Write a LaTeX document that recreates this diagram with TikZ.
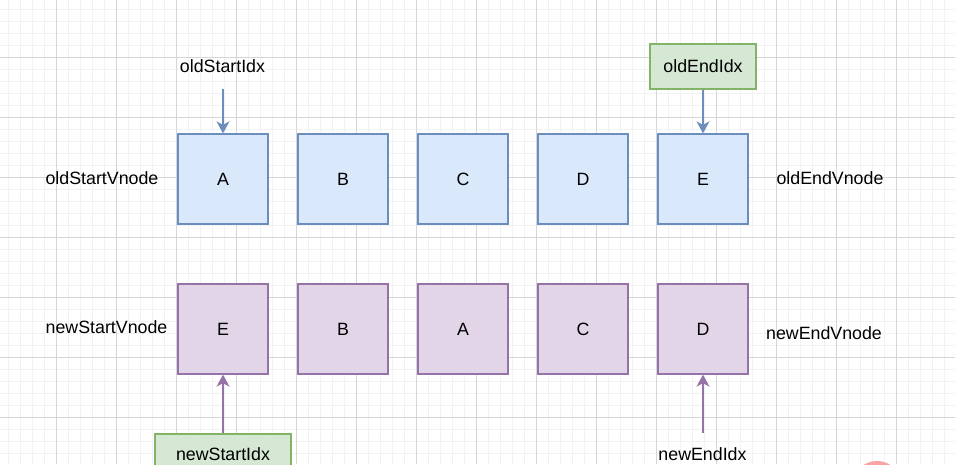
\documentclass[tikz,border=0pt]{standalone}
\usepackage{fontspec}
\setmainfont{Liberation Sans}
\usetikzlibrary{arrows.meta}
\definecolor{bluefill}{HTML}{DAE8FC}
\definecolor{bluedraw}{HTML}{6C8EBF}
\definecolor{purpfill}{HTML}{E1D5E7}
\definecolor{purpdraw}{HTML}{9673A6}
\definecolor{greenfill}{HTML}{D5E8D4}
\definecolor{greendraw}{HTML}{82B366}
\definecolor{gridmajor}{HTML}{D6D6D6}
\definecolor{gridminor}{HTML}{F2F2F2}
\definecolor{blob}{HTML}{F9A3A3}
\tikzset{
  txt/.style={font=\fontsize{17.8}{20}\selectfont, inner sep=0pt},
  oldbox/.style={txt, draw=bluedraw, fill=bluefill, line width=1.3pt, minimum width=90pt, minimum height=90pt},
  newbox/.style={txt, draw=purpdraw, fill=purpfill, line width=1.3pt, minimum width=90pt, minimum height=90pt},
  idxbox/.style={txt, draw=greendraw, fill=greenfill, line width=1.3pt, minimum height=45pt},
  bluearrow/.style={draw=bluedraw, line width=1.3pt, -{Stealth[length=12pt,width=13pt,inset=3.5pt]}},
  purparrow/.style={draw=purpdraw, line width=1.3pt, -{Stealth[length=12pt,width=13pt,inset=3.5pt]}},
}
\begin{document}
\begin{tikzpicture}[x=1pt,y=-1pt]
\useasboundingbox (0,0) rectangle (955,464);
\fill[white] (0,0) rectangle (955,464);
% minor grid
\foreach \i in {0,...,79} {\draw[gridminor, line width=0.8pt] (8.7+12*\i,0) -- (8.7+12*\i,464);}
\foreach \j in {0,...,38} {\draw[gridminor, line width=0.8pt] (0,9.3+12*\j) -- (955,9.3+12*\j);}
% major grid
\foreach \i in {0,...,14} {\draw[gridmajor, line width=0.8pt] (56.7+60*\i,0) -- (56.7+60*\i,464);}
\foreach \j in {0,...,6} {\draw[gridmajor, line width=0.8pt] (0,57.3+60*\j) -- (955,57.3+60*\j);}

% blob
\fill[blob] (877,486) circle (25);

% old row
\node[oldbox] (oA) at (223,179) {A};
\node[oldbox] (oB) at (343,179) {B};
\node[oldbox] (oC) at (463,179) {C};
\node[oldbox] (oD) at (583,179) {D};
\node[oldbox] (oE) at (703,179) {E};
% new row
\node[newbox] (nE) at (223,329) {E};
\node[newbox] (nB) at (343,329) {B};
\node[newbox] (nA) at (463,329) {A};
\node[newbox] (nC) at (583,329) {C};
\node[newbox] (nD) at (703,329) {D};

% labels
\node[txt] (osv) at (102,178) {oldStartVnode};
\node[txt] (oev) at (830,178) {oldEndVnode};
\node[txt] (nsv) at (106.5,327) {newStartVnode};
\node[txt] (nev) at (824,333) {newEndVnode};

% index pointers
\node[txt] (osi) at (222.5,66) {oldStartIdx};
\coordinate (osiEnd) at (223,89);
\node[idxbox, minimum width=106pt] (oei) at (703,66.5) {oldEndIdx};
\node[idxbox, minimum width=136pt] (nsibox) at (223,456.5) {};
\node[txt] (nsi) at (223,454) {newStartIdx};
\node[txt] (nei) at (702.5,454) {newEndIdx};
\coordinate (neiEnd) at (703,433);

\draw[bluearrow] (osiEnd) -- (oA.north);
\draw[bluearrow] (oei.south) -- (oE.north);
\draw[purparrow] (nsibox.north) -- (nE.south);
\draw[purparrow] (neiEnd) -- (nD.south);
\end{tikzpicture}
\end{document}
